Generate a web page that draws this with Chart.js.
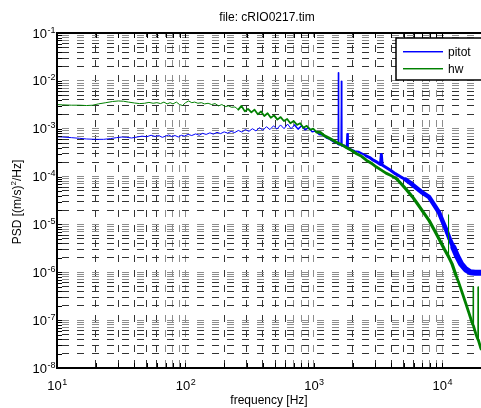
<!DOCTYPE html>
<html>
<head>
<meta charset="utf-8">
<script src="https://cdn.jsdelivr.net/npm/chart.js@4"></script>
<style>
  html, body { margin: 0; padding: 0; background: #fff; }
  canvas { display: block; }
</style>
</head>
<body>
<canvas id="grafico" width="481" height="408"></canvas>
<script>
const TITULO = "file: cRIO0217.tim";
const TITULO_X = "frequency [Hz]";
const SERIES = ["pitot", "hw"];

// decadas dos eixos (rotulos 10^n)
const xDecadas = [10, 100, 1000, 10000];
const xExpoentes = ["1", "2", "3", "4"];
const yDecadas = [1e-8, 1e-7, 1e-6, 1e-5, 1e-4, 1e-3, 1e-2, 1e-1];
const yExpoentes = ["-8", "-7", "-6", "-5", "-4", "-3", "-2", "-1"];
const passosMenores = [1, 2, 3, 4, 5, 6, 7, 8, 9];

// pitot
const pitotFreq = [10, 11, 13, 15, 17, 20, 23, 26, 29, 32, 35, 38, 42, 46, 50, 54, 58, 62, 66, 70, 74, 78, 83, 88, 93, 98,
  105, 112, 120, 128, 136, 145, 155, 165, 176, 188, 200, 213, 227, 242, 258, 275, 293, 312, 332, 354, 377, 401, 427, 455,
  485, 516, 550, 586, 624, 664, 707, 753, 802, 854, 910, 970, 1030, 1100, 1170, 1250, 1330, 1420, 1500, 1540, 1550, 1560,
  1620, 1635, 1650, 1720, 1800, 1820, 1840, 1950, 2080, 2220, 2380, 2550, 2720, 2900, 3100, 3300, 3350, 3400, 3650, 3950,
  4300, 4700, 5200, 5700, 6300, 7000, 7900, 8600, 9400, 10000, 10700, 11400, 12200, 13000, 14000, 15200, 16500, 18000, 20000];
const pitotPsd = [6.8e-4, 6.7e-4, 6.5e-4, 6.3e-4, 6.1e-4, 6.0e-4, 6.0e-4, 6.2e-4, 6.5e-4, 6.7e-4, 6.6e-4, 6.4e-4, 6.7e-4, 7.0e-4, 6.8e-4, 7.3e-4, 6.9e-4, 7.2e-4, 6.6e-4, 7.0e-4, 7.4e-4, 6.9e-4, 7.2e-4, 6.7e-4, 7.3e-4, 7.0e-4,
  7.6e-4, 7.2e-4, 7.8e-4, 7.3e-4, 8.0e-4, 7.6e-4, 8.2e-4, 7.7e-4, 8.4e-4, 7.9e-4, 8.6e-4, 8.1e-4, 8.8e-4, 8.3e-4, 9.2e-4, 8.5e-4, 9.6e-4, 8.8e-4, 1.0e-3, 9.0e-4, 1.05e-3, 9.3e-4, 1.1e-3, 9.6e-4,
  1.15e-3, 9.8e-4, 1.2e-3, 1.0e-3, 1.25e-3, 1.0e-3, 1.2e-3, 9.8e-4, 1.15e-3, 9.5e-4, 1.05e-3, 8.6e-4, 9.0e-4, 7.6e-4, 7.4e-4, 6.4e-4, 6.0e-4, 5.3e-4, 5.1e-4, 4.8e-4, 1.5e-2, 4.7e-4,
  4.6e-4, 1.0e-2, 4.4e-4, 4.5e-4, 4.0e-4, 7.8e-4, 3.9e-4, 3.7e-4, 3.4e-4, 3.3e-4, 3.0e-4, 2.7e-4, 2.5e-4, 2.2e-4, 2.0e-4, 1.8e-4, 2.9e-4, 1.75e-4, 1.55e-4, 1.35e-4,
  1.15e-4, 1.0e-4, 8.6e-5, 7.2e-5, 5.8e-5, 4.6e-5, 3.7e-5, 2.6e-5, 1.8e-5, 1.2e-5, 7.8e-6, 5.0e-6, 3.3e-6, 2.2e-6, 1.5e-6, 1.15e-6, 1.0e-6, 9.8e-7, 9.8e-7];

// hw
const hwFreq = [10, 11, 13, 15, 17, 19, 21, 24, 27, 30, 33, 36, 40, 44, 48, 52, 56, 60, 64, 68, 72, 76, 80, 85, 90, 95,
  100, 106, 112, 118, 125, 133, 141, 150, 160, 170, 181, 192, 204, 216, 229, 243, 258, 273, 290, 307, 326, 345, 366, 388,
  411, 436, 462, 490, 520, 551, 584, 619, 656, 696, 738, 782, 829, 879, 932, 988, 1050, 1120, 1200, 1300, 1400, 1520,
  1650, 1800, 1970, 2150, 2350, 2560, 2800, 3050, 3330, 3640, 3980, 4400, 4800, 5300, 5840, 6400, 7100, 7900, 8700, 9500,
  10400, 11100, 11150, 11200, 11900, 12700, 13500, 14300, 15100, 16000, 16900, 17300, 17400, 17500, 18200, 18900, 19000, 19100, 20000];
const hwPsd = [3.2e-3, 3.15e-3, 3.1e-3, 3.1e-3, 3.05e-3, 3.1e-3, 3.3e-3, 3.5e-3, 3.7e-3, 3.8e-3, 3.75e-3, 3.6e-3, 3.45e-3, 3.35e-3, 3.4e-3, 3.55e-3, 3.4e-3, 3.5e-3, 3.35e-3, 3.6e-3, 3.3e-3, 3.5e-3, 3.3e-3, 3.6e-3, 3.2e-3, 3.05e-3,
  3.5e-3, 3.8e-3, 3.5e-3, 3.6e-3, 3.4e-3, 3.5e-3, 3.3e-3, 3.4e-3, 3.2e-3, 3.35e-3, 3.0e-3, 3.2e-3, 2.9e-3, 3.0e-3, 2.8e-3, 2.85e-3, 2.5e-3, 3.0e-3, 2.3e-3, 2.6e-3, 2.2e-3, 2.5e-3, 2.0e-3, 2.3e-3,
  1.85e-3, 2.1e-3, 1.7e-3, 1.9e-3, 1.55e-3, 1.75e-3, 1.45e-3, 1.6e-3, 1.3e-3, 1.45e-3, 1.2e-3, 1.3e-3, 1.05e-3, 1.15e-3, 9.5e-4, 1.0e-3, 8.5e-4, 8.4e-4, 7.2e-4, 6.5e-4, 5.8e-4, 5.1e-4,
  4.6e-4, 4.0e-4, 3.5e-4, 3.0e-4, 2.65e-4, 2.2e-4, 1.9e-4, 1.6e-4, 1.38e-4, 1.18e-4, 1.05e-4, 9.0e-5, 7.0e-5, 5.2e-5, 3.8e-5, 2.7e-5, 1.8e-5, 1.2e-5, 7.5e-6, 4.8e-6,
  3.0e-6, 2.2e-6, 1.6e-5, 2.1e-6, 1.5e-6, 9.0e-7, 5.8e-7, 3.7e-7, 2.4e-7, 1.5e-7, 9.5e-8, 8.0e-8, 5.0e-7, 7.5e-8, 5.2e-8, 4.0e-8, 5.0e-7, 3.8e-8, 2.5e-8];

const FONTE = '"Liberation Sans", Arial, Helvetica, sans-serif';
const AZUL = "#0000ff";
const VERDE = "#008000";

function gradeTicks(decadas, max) {
    const lista = [];
    decadas.forEach(d => passosMenores.forEach(m => {
        const v = +(m * d).toPrecision(6);
        if (v <= max * 1.0001) lista.push({ value: v });
    }));
    return lista;
}

function mantissa(v) {
    return Math.round(v / Math.pow(10, Math.floor(Math.log10(v) + 1e-9)));
}

function corGrade(c) {
    if (!c.tick) return "#333";
    const m = mantissa(c.tick.value);
    return (m === 1 || m >= 7) ? "#8c8c8c" : "#333";
}

// espessura do traco por faixa de frequencia (o ruido engrossa a curva)
const largPitot = [[700, 1], [1500, 1.5], [2500, 2], [5000, 3], [12000, 4.5], [Infinity, 6]];
const largHw = [[250, 1], [1000, 1.8], [4000, 2.8], [12000, 3.2], [Infinity, 2.8]];

function largura(faixas) {
    return c => {
        const r = c.p1.parsed.y / c.p0.parsed.y;
        if (r > 3 || r < 1 / 3) return 1;
        const f = c.p0.parsed.x;
        for (const [lim, w] of faixas) if (f < lim) return w;
        return 1;
    };
}

function potencia(ctx, exp, x, yBase, alinhar) {
    ctx.font = "13px " + FONTE;
    const w1 = ctx.measureText("10").width;
    ctx.font = "9px " + FONTE;
    const w2 = ctx.measureText(exp).width;
    let x0 = alinhar === "right" ? x - w1 - w2 : x - (w1 + w2) / 2;
    ctx.textAlign = "left";
    ctx.textBaseline = "alphabetic";
    ctx.font = "13px " + FONTE;
    ctx.fillText("10", x0, yBase);
    ctx.font = "9px " + FONTE;
    ctx.fillText(exp, x0 + w1 + 0.5, yBase - 5);
}

const moldura = {
    id: "moldura",
    afterDraw(chart) {
        const { ctx, chartArea: a, scales: { x, y } } = chart;
        ctx.save();
        ctx.fillStyle = "#000";
        ctx.strokeStyle = "#000";

        // ticks para dentro
        ctx.lineWidth = 1;
        ctx.beginPath();
        x.ticks.forEach(t => {
            const px = Math.round(x.getPixelForValue(t.value)) + 0.5;
            ctx.moveTo(px, a.bottom); ctx.lineTo(px, a.bottom - 5);
            ctx.moveTo(px, a.top); ctx.lineTo(px, a.top + 5);
        });
        y.ticks.forEach(t => {
            const py = Math.round(y.getPixelForValue(t.value)) + 0.5;
            ctx.moveTo(a.left, py); ctx.lineTo(a.left + 5, py);
        });
        ctx.stroke();

        // caixa
        ctx.lineWidth = 2;
        ctx.beginPath();
        ctx.moveTo(a.right + 2, a.top);
        ctx.lineTo(a.left, a.top);
        ctx.lineTo(a.left, a.bottom);
        ctx.lineTo(a.right + 2, a.bottom);
        ctx.stroke();

        // rotulos
        xDecadas.forEach((d, i) => potencia(ctx, xExpoentes[i], x.getPixelForValue(d), a.bottom + 22, "center"));
        yDecadas.forEach((d, i) => potencia(ctx, yExpoentes[i], a.left - 2, y.getPixelForValue(d) + 4.5, "right"));

        ctx.font = "12px " + FONTE;
        ctx.textAlign = "center";
        ctx.textBaseline = "alphabetic";
        ctx.fillText(TITULO, 267, 21);
        ctx.fillText(TITULO_X, 269, 404);

        // titulo do eixo y com expoente
        ctx.save();
        ctx.translate(21, 202);
        ctx.rotate(-Math.PI / 2);
        const p1 = "PSD [(m/s)", p2 = "2", p3 = "/Hz]";
        ctx.font = "12px " + FONTE;
        const w1 = ctx.measureText(p1).width, w3 = ctx.measureText(p3).width;
        ctx.font = "8px " + FONTE;
        const w2 = ctx.measureText(p2).width;
        let xx = -(w1 + w2 + w3) / 2;
        ctx.textAlign = "left";
        ctx.font = "12px " + FONTE;
        ctx.fillText(p1, xx, 0);
        ctx.font = "8px " + FONTE;
        ctx.fillText(p2, xx + w1, -5);
        ctx.font = "12px " + FONTE;
        ctx.fillText(p3, xx + w1 + w2, 0);
        ctx.restore();

        // legenda
        const lx = a.right - 85, ly = a.top + 5;
        ctx.fillStyle = "#fff";
        ctx.fillRect(lx, ly, 100, 42);
        ctx.lineWidth = 1.5;
        ctx.strokeStyle = "#000";
        ctx.strokeRect(lx, ly, 100, 42);
        [AZUL, VERDE].forEach((cor, i) => {
            const yy = Math.round(ly + 13 + i * 17);
            ctx.fillStyle = cor;
            ctx.globalAlpha = 1;
            ctx.fillRect(lx + 7, yy, 40, 1);
            ctx.globalAlpha = 0.45;
            ctx.fillRect(lx + 7, yy + 1, 40, 1);
            ctx.globalAlpha = 1;
            ctx.fillStyle = "#000";
            ctx.font = "12px " + FONTE;
            ctx.textAlign = "left";
            ctx.fillText(SERIES[i], lx + 52, yy + 4.5);
        });
        ctx.restore();
    }
};

const ctx = document.getElementById("grafico");
new Chart(ctx, {
    type: "line",
    data: {
        datasets: [
            {
                label: "pitot",
                data: pitotFreq.map((f, i) => ({ x: f, y: pitotPsd[i] })),
                borderColor: AZUL,
                borderWidth: 1,
                pointRadius: 0,
                tension: 0,
                borderCapStyle: "round",
                borderJoinStyle: "round",
                segment: { borderWidth: largura(largPitot) },
                order: 1
            },
            {
                label: "hw",
                data: hwFreq.map((f, i) => ({ x: f, y: hwPsd[i] })),
                borderColor: VERDE,
                borderWidth: 1,
                pointRadius: 0,
                tension: 0,
                borderCapStyle: "round",
                borderJoinStyle: "round",
                segment: { borderWidth: largura(largHw) },
                order: 0
            }
        ]
    },
    options: {
        responsive: false,
        animation: false,
        layout: { padding: { left: 57, top: 33, right: 0, bottom: 40 } },
        plugins: { legend: { display: false }, tooltip: { enabled: false } },
        scales: {
            x: {
                type: "logarithmic",
                min: 10,
                max: 20000,
                afterBuildTicks: s => { s.ticks = gradeTicks(xDecadas, 20000); },
                ticks: { display: false },
                grid: { color: corGrade, lineWidth: 1, drawTicks: false },
                border: { display: false, dash: [7, 8], dashOffset: 3 }
            },
            y: {
                type: "logarithmic",
                min: 1e-8,
                max: 1e-1,
                afterBuildTicks: s => { s.ticks = gradeTicks(yDecadas, 1e-1); },
                ticks: { display: false },
                grid: { color: corGrade, lineWidth: 1, drawTicks: false },
                border: { display: false, dash: [7, 8], dashOffset: 10 }
            }
        }
    },
    plugins: [moldura]
});
</script>
</body>
</html>
